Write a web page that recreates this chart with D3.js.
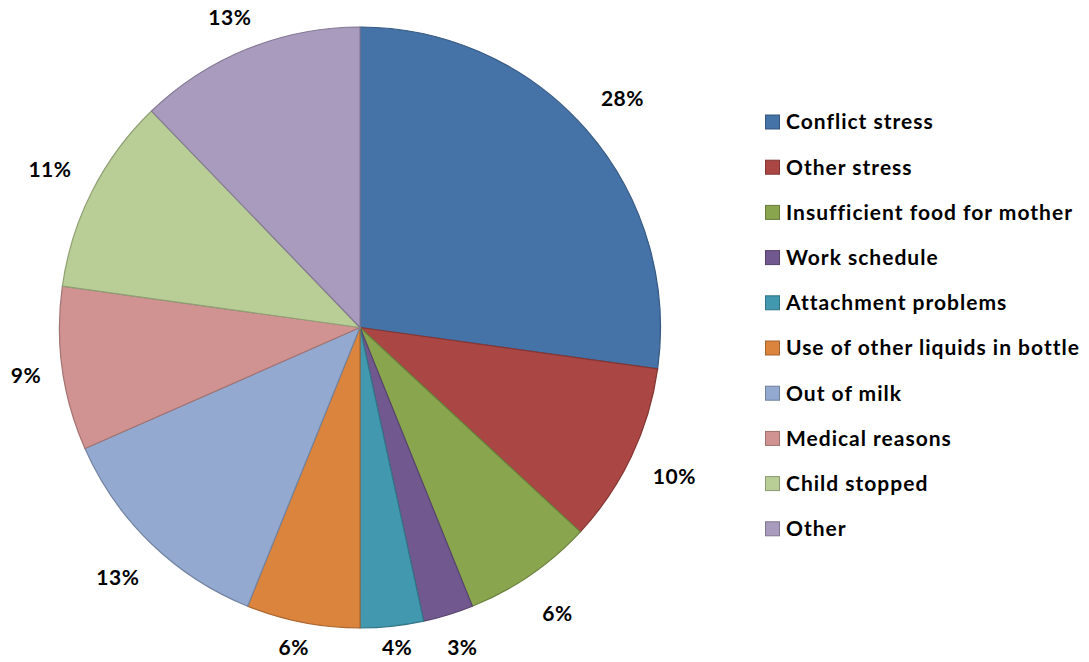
<html>
<head>
<style>
body {
  margin: 0;
  background: white;
}
svg {
  display: block;
}
text {
  font-family: Lato, "Open Sans", sans-serif;
  font-weight: bold;
  fill: black;
}
</style>
</head>
<body>
<script src="https://cdnjs.cloudflare.com/ajax/libs/d3/7.8.5/d3.min.js"></script>
<script>
var reasons = [
  "Conflict stress",
  "Other stress",
  "Insufficient food for mother",
  "Work schedule",
  "Attachment problems",
  "Use of other liquids in bottle",
  "Out of milk",
  "Medical reasons",
  "Child stopped",
  "Other"
]

// slice sizes (percent)
var shares = [27.2, 9.7, 7.0, 2.7, 3.4, 6.1, 12.3, 8.8, 10.6, 12.2]

// labels as printed on the chart
var pctLabels = ["28%", "10%", "6%", "3%", "4%", "6%", "13%", "9%", "11%", "13%"]

var colors = ["#4572A7", "#AA4643", "#89A54E", "#71588F", "#4198AF",
              "#DB843D", "#93A9CF", "#D19392", "#B9CD96", "#A99BBD"]

var width = 1089,
    height = 662,
    cx = 360,
    cy = 327.5,
    radius = 300.5;

var svg = d3.select("body")
  .append("svg")
  .attr("width", width)
  .attr("height", height)

var slices = reasons.map(function(name, i) {
  return { name: name, value: shares[i], label: pctLabels[i], color: colors[i] }
})

var pie = d3.pie().sort(null).value(function(d) { return d.value })
var arc = d3.arc().innerRadius(0).outerRadius(radius)

var arcs = pie(slices)

var chart = svg.append("g")
  .attr("transform", "translate(" + cx + " " + cy + ")")

chart.selectAll("path")
  .data(arcs)
  .enter().append("path")
  .attr("d", arc)
  .attr("fill", function(d) { return d.data.color })
  .attr("stroke", function(d) { return d3.color(d.data.color).darker(0.7) })
  .attr("stroke-width", 1.2)
  .attr("stroke-linejoin", "round")

// percent labels centred on a ring outside the rim, kept inside the frame
var labelArc = d3.arc().innerRadius(348).outerRadius(348)

chart.selectAll("text.pct")
  .data(arcs)
  .enter().append("text")
  .attr("class", "pct")
  .attr("font-size", 21)
  .attr("letter-spacing", 0.5)
  .attr("text-anchor", "middle")
  .attr("dy", "0.35em")
  .attr("x", function(d) {
    var x = labelArc.centroid(d)[0]
    return Math.max(26 - cx, x)
  })
  .attr("y", function(d) {
    var y = labelArc.centroid(d)[1]
    return Math.max(18 - cy, Math.min(648 - cy, y))
  })
  .text(function(d) { return d.data.label })

// legend
var legendX = 765,
    legendY = 122,
    legendStep = 45.2;

var legend = svg.append("g")
  .selectAll("g")
  .data(slices)
  .enter().append("g")
  .attr("transform", function(d, i) {
    return "translate(" + legendX + " " + (legendY + i * legendStep) + ")"
  })

legend.append("rect")
  .attr("x", 0.5)
  .attr("y", -7)
  .attr("width", 14)
  .attr("height", 14)
  .attr("fill", function(d) { return d.color })
  .attr("stroke", function(d) { return d3.color(d.color).darker(0.8) })
  .attr("stroke-width", 1)

legend.append("text")
  .attr("x", 21)
  .attr("dy", "0.35em")
  .attr("font-size", 21)
  .attr("letter-spacing", 1)
  .text(function(d) { return d.name })
</script>
</body>
</html>
